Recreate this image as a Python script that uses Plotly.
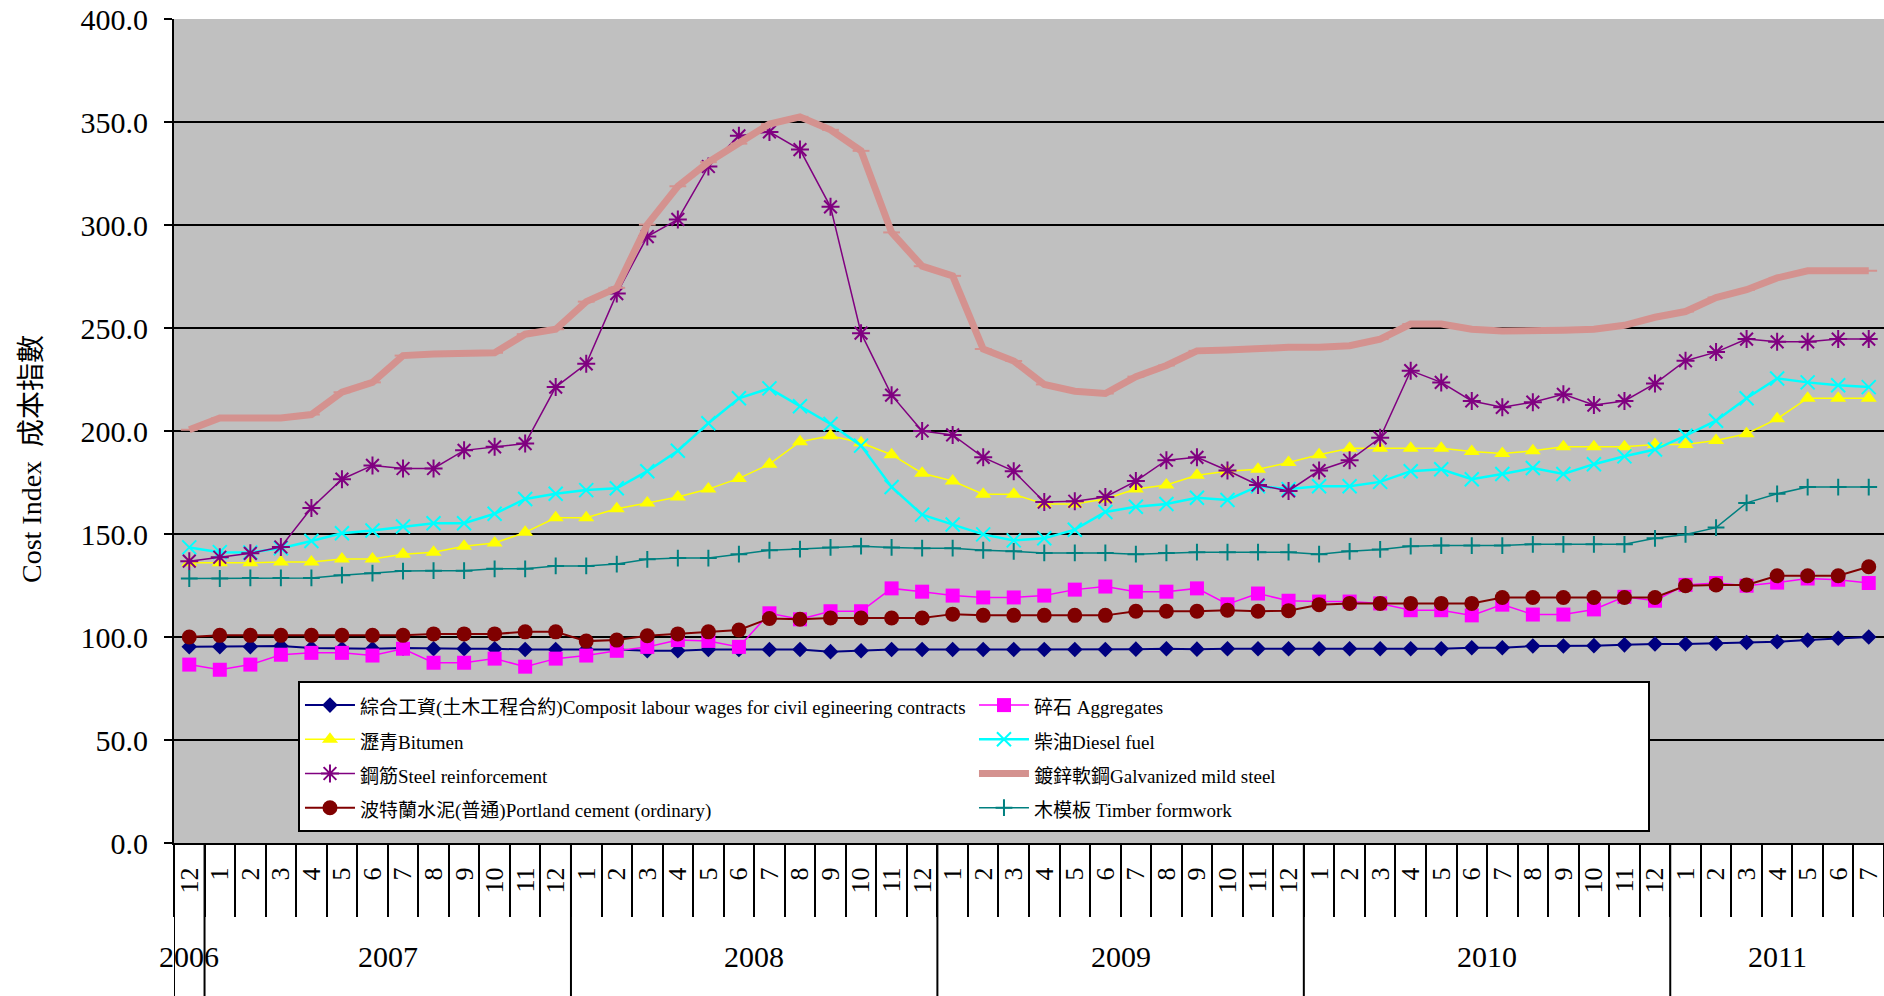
import plotly.graph_objects as go

# ---- categories ----
month_labels = ["12",
                "1", "2", "3", "4", "5", "6", "7", "8", "9", "10", "11", "12",
                "1", "2", "3", "4", "5", "6", "7", "8", "9", "10", "11", "12",
                "1", "2", "3", "4", "5", "6", "7", "8", "9", "10", "11", "12",
                "1", "2", "3", "4", "5", "6", "7", "8", "9", "10", "11", "12",
                "1", "2", "3", "4", "5", "6", "7"]
year_labels = ["2006", "2007", "2008", "2009", "2010", "2011"]
year_sizes = [1, 12, 12, 12, 12, 7]

# ---- series values ----
labour = [95.3, 95.3, 95.3, 95.6, 94.6, 94.3, 94.3, 94.6, 94.3, 94.3, 94.3, 93.9, 93.9, 93.9,
          93.9, 93.3, 93.3, 93.9, 93.9, 93.9, 93.9, 92.9, 93.3, 93.9, 93.9, 93.9, 93.9, 93.9,
          93.9, 93.9, 93.9, 94.1, 94.3, 94.1, 94.3, 94.3, 94.3, 94.3, 94.3, 94.3, 94.3, 94.3,
          94.8, 94.8, 95.6, 95.6, 95.8, 96.2, 96.6, 96.6, 96.9, 97.3, 97.7, 98.5, 99.4, 100.0]
aggregates = [86.6, 84.1, 86.6, 91.4, 92.3, 92.3, 91.0, 94.3, 87.5, 87.5, 89.5, 85.6, 89.5, 91.0,
              93.3, 95.2, 98.5, 98.1, 95.2, 111.5, 108.6, 112.5, 112.5, 123.6, 122.0, 120.1, 119.2, 119.2,
              120.1, 123.0, 124.5, 122.0, 122.0, 123.6, 115.9, 121.1, 117.6, 117.2, 117.2, 116.3, 113.0, 113.0,
              110.5, 115.7, 110.9, 110.9, 113.4, 119.5, 117.6, 125.3, 126.2, 124.9, 126.4, 128.4, 127.8, 126.2]
bitumen = [136.0, 136.0, 136.0, 136.4, 136.4, 137.9, 137.9, 140.2, 141.2, 144.0, 145.6, 150.8, 157.9, 157.9,
           162.3, 165.1, 168.0, 171.8, 177.0, 183.9, 194.8, 197.7, 194.3, 188.5, 179.5, 175.7, 169.3, 169.3,
           164.6, 164.6, 167.0, 171.8, 173.8, 178.5, 180.5, 181.4, 184.7, 188.5, 191.6, 191.6, 191.6, 191.6,
           190.0, 189.1, 190.4, 192.3, 192.3, 192.3, 193.5, 193.5, 195.4, 198.7, 205.9, 215.9, 215.9, 215.9]
diesel = [143.5, 141.2, 141.0, 143.1, 146.6, 150.4, 151.7, 153.6, 155.2, 155.2, 159.8, 167.0, 169.5, 171.3,
          172.2, 180.5, 190.4, 203.8, 215.9, 220.7, 212.0, 203.4, 192.9, 172.8, 159.4, 154.6, 149.8, 146.9,
          147.9, 152.1, 160.7, 163.2, 164.6, 167.6, 166.5, 173.2, 171.8, 173.2, 173.2, 175.3, 180.5, 181.4,
          176.6, 179.1, 182.0, 179.1, 183.9, 187.7, 191.0, 197.7, 205.0, 215.9, 225.5, 223.6, 222.2, 221.3]
steel = [136.8, 138.7, 140.6, 143.7, 162.6, 176.6, 183.3, 181.8, 181.8, 190.6, 192.3, 193.9, 221.3, 232.6,
         266.7, 294.4, 302.7, 328.4, 343.3, 345.2, 336.6, 308.8, 247.5, 217.4, 200.0, 198.1, 187.2, 180.5,
         165.5, 165.9, 168.0, 175.7, 185.8, 187.2, 180.8, 173.8, 170.9, 180.8, 185.8, 196.7, 229.3, 223.6,
         214.6, 211.5, 214.0, 217.8, 212.6, 214.6, 223.0, 234.1, 238.3, 244.6, 243.3, 243.3, 244.6, 244.6]
galvanized = [200.6, 206.3, 206.3, 206.3, 208.0, 218.8, 223.6, 236.6, 237.4, 237.4, 238.0, 247.0, 249.4, 262.8,
              269.5, 300.2, 318.8, 330.5, 339.5, 349.0, 352.5, 346.2, 336.0, 296.4, 280.0, 275.3, 239.8, 234.0,
              222.6, 219.3, 218.2, 226.4, 231.8, 238.9, 239.3, 240.2, 240.6, 240.6, 241.4, 244.6, 251.9, 251.9,
              249.4, 248.5, 248.5, 248.9, 249.4, 251.3, 255.2, 258.0, 264.8, 268.6, 274.3, 277.8, 277.8, 277.8]
cement = [100.0, 100.8, 100.8, 100.8, 100.8, 100.8, 100.8, 100.8, 101.5, 101.5, 101.5, 102.5, 102.5, 98.0,
          98.5, 100.6, 101.5, 102.5, 103.4, 109.0, 108.6, 109.2, 109.2, 109.2, 109.2, 111.1, 110.5, 110.5,
          110.5, 110.5, 110.5, 112.5, 112.5, 112.5, 113.0, 112.5, 112.8, 115.7, 116.3, 116.3, 116.3, 116.3,
          116.3, 119.2, 119.2, 119.2, 119.2, 119.2, 119.2, 124.9, 125.3, 125.3, 129.7, 129.7, 129.7, 134.1]
timber = [128.4, 128.4, 128.7, 128.7, 128.7, 130.0, 131.0, 132.0, 132.2, 132.2, 133.1, 133.1, 134.5, 134.5,
          135.4, 137.7, 138.3, 138.3, 140.2, 142.1, 142.7, 143.5, 144.1, 143.5, 143.1, 143.1, 142.1, 141.6,
          140.8, 140.8, 140.8, 140.2, 140.8, 141.2, 141.2, 141.2, 141.2, 140.2, 141.6, 142.5, 144.1, 144.4,
          144.4, 144.4, 145.0, 145.0, 145.0, 145.0, 147.9, 149.8, 153.1, 165.1, 169.5, 172.8, 172.8, 172.8]

series_names = [
    "綜合工資(土木工程合約)Composit labour wages for civil egineering contracts",
    "碎石 Aggregates",
    "瀝青Bitumen",
    "柴油Diesel fuel",
    "鋼筋Steel reinforcement",
    "鍍鋅軟鋼Galvanized mild steel",
    "波特蘭水泥(普通)Portland cement (ordinary)",
    "木模板 Timber formwork",
]
y_title = "Cost Index  成本指數"

SERIF = "Liberation Serif, Times New Roman, Noto Sans CJK TC, serif"

n = len(month_labels)
x = list(range(n))

styles = [
    dict(color="#000080", width=2, symbol="diamond", size=12, open=False),
    dict(color="#FF00FF", width=1.5, symbol="square", size=14, open=False),
    dict(color="#FFFF00", width=1.5, symbol="triangle-up", size=14, open=False),
    dict(color="#00FFFF", width=2.5, symbol="x-thin-open", size=14, open=True),
    dict(color="#800080", width=1.5, symbol="asterisk-open", size=15, open=True),
    dict(color="#D4928F", width=7, symbol="line-ew-open", size=12, open=True),
    dict(color="#800000", width=2, symbol="circle", size=15, open=False),
    dict(color="#008080", width=1.5, symbol="cross-thin-open", size=12, open=True),
]
all_values = [labour, aggregates, bitumen, diesel, steel, galvanized, cement, timber]

fig = go.Figure()
for name, vals, st in zip(series_names, all_values, styles):
    marker = dict(symbol=st["symbol"], size=st["size"], color=st["color"])
    if st["open"]:
        marker["line"] = dict(color=st["color"], width=2)
    else:
        marker["line"] = dict(width=0)
    fig.add_trace(go.Scatter(
        x=x, y=vals, mode="lines+markers",
        name='<span style="font-size:19px">' + name + '</span>',
        line=dict(color=st["color"], width=st["width"]),
        marker=marker,
    ))

# boundaries between months and between years
boundaries = [i - 0.5 for i in range(n + 1)]
shapes = []
annotations = []
start = 0
for yl, sz in zip(year_labels, year_sizes):
    shapes.append(dict(type="line", xref="x", yref="paper",
                       x0=start - 0.5, x1=start - 0.5, y0=0, y1=-0.19,
                       line=dict(color="black", width=2)))
    annotations.append(dict(xref="x", yref="paper", x=start + (sz - 1) / 2, y=-0.138,
                            text=yl, showarrow=False, yanchor="middle",
                            font=dict(family=SERIF, size=30, color="black")))
    start += sz

# y-axis title (rotated)
annotations.append(dict(xref="paper", yref="paper", x=0, y=0.466, xshift=-143,
                        text=y_title, textangle=-90, showarrow=False,
                        xanchor="center", yanchor="middle",
                        font=dict(family=SERIF, size=28, color="black")))

fig.update_layout(
    width=1884, height=996,
    margin=dict(l=174, r=0, t=19, b=153),
    paper_bgcolor="white",
    plot_bgcolor="#C0C0C0",
    showlegend=True,
    legend=dict(
        orientation="h", x=0.0725, y=0.1966, xanchor="left", yanchor="top",
        bgcolor="white", bordercolor="black", borderwidth=2,
        font=dict(family=SERIF, size=24, color="black"),
        entrywidth=609, entrywidthmode="pixels", itemwidth=50,
        traceorder="normal",
    ),
    xaxis=dict(
        range=[-0.5, n - 0.5], automargin=False,
        tickmode="array", tickvals=x, ticktext=month_labels,
        tickangle=-90, ticks="", ticklabelstandoff=12,
        ticklabeloverflow="allow",
        tickfont=dict(family=SERIF, size=26, color="black"),
        showgrid=False, zeroline=False,
        showline=True, linecolor="black", linewidth=2,
        minor=dict(tickmode="array", tickvals=boundaries, ticks="outside",
                   ticklen=72, tickwidth=2, tickcolor="black", showgrid=False),
    ),
    yaxis=dict(
        range=[0, 400], automargin=False,
        tickmode="linear", tick0=0, dtick=50, tickformat=".1f",
        ticks="outside", ticklen=8, tickwidth=2, tickcolor="black",
        ticklabelstandoff=10, ticklabeloverflow="allow",
        tickfont=dict(family=SERIF, size=30, color="black"),
        showgrid=True, gridcolor="black", gridwidth=2,
        zeroline=True, zerolinecolor="black", zerolinewidth=2,
        showline=True, linecolor="black", linewidth=2,
    ),
    shapes=shapes,
    annotations=annotations,
)

fig.write_html("out.html", config={"displayModeBar": False},
               post_script="document.body.style.margin='0';")
